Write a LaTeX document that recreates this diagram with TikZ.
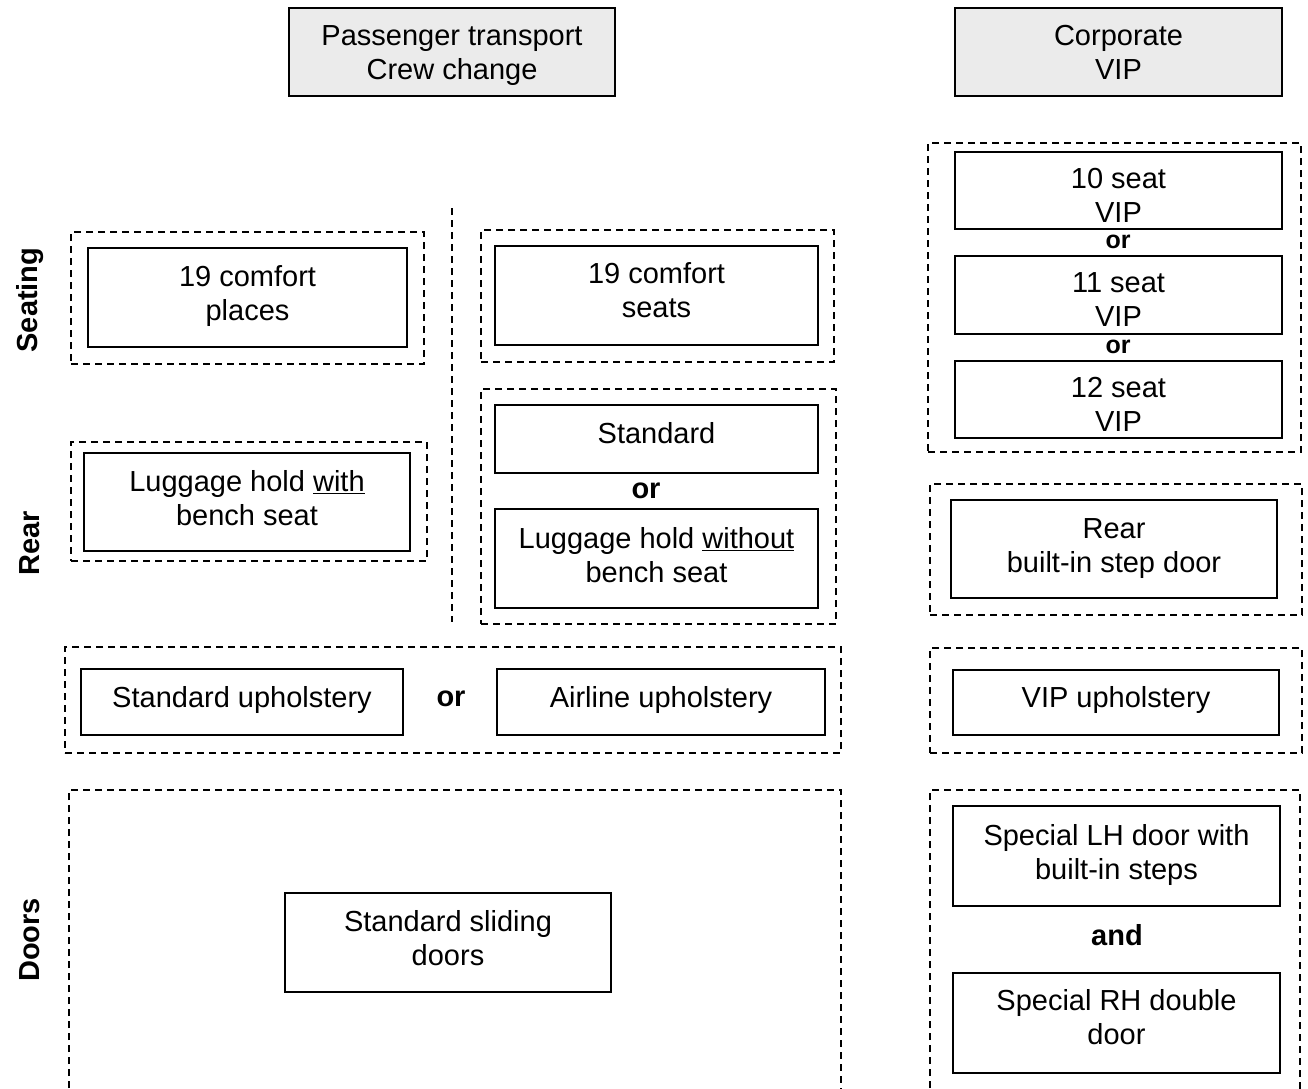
\documentclass[tikz,border=0pt]{standalone}
\usepackage{fontspec}
\setmainfont{Liberation Sans}
% option box: name, centre x, centre y, width, height, text centre y, text
\newcommand{\optbox}[7][box]{%
  \node[#1, sz={#5}{#6}] (#2) at (#3,#4) {};
  \node[txt] (#2-t) at (#3,#7) }
\begin{document}
\begin{tikzpicture}[x=1pt,y=-1pt,
  txt/.style={font=\fontsize{29}{34}\selectfont, align=center, inner sep=0pt},
  box/.style={draw, line width=2pt, inner sep=0pt},
  hdr/.style={box, fill=black!8},
  grp/.style={draw, line width=1.5pt, dash pattern=on 7pt off 5pt, inner sep=0pt},
  sz/.style 2 args={minimum width=#1pt, minimum height=#2pt},
  conj/.style={font=\fontsize{29}{34}\selectfont\bfseries},
  conjs/.style={font=\fontsize{25}{30}\selectfont\bfseries},
  rowlbl/.style={font=\fontsize{29}{34}\selectfont\bfseries, rotate=90}
]
\useasboundingbox (0,0) rectangle (1308,1088);
\clip (0,0) rectangle (1308,1088);

% column headers
\optbox[hdr]{hpass}{452}{52}{326}{88}{56} {Passenger transport\\Crew change};
\optbox[hdr]{hcorp}{1118.5}{52}{327}{88}{52} {Corporate\\VIP};

% row labels
\node[rowlbl] (lseat) at (30,300) {Seating};
\node[rowlbl] (lrear) at (30,543) {Rear};
\node[rowlbl] (ldoor) at (30,940) {Doors};

% divider between the two passenger variants
\coordinate (divtop) at (452,208);
\coordinate (divbot) at (452,622);
\draw[line width=1.5pt, dash pattern=on 7pt off 5pt] (divtop) -- (divbot);

% seating
\node[grp, sz={353}{132}] (gseatA) at (247.5,298) {};
\optbox{seatA}{247.5}{297.5}{319}{99}{296.5} {19 comfort\\places};
\node[grp, sz={353}{132}] (gseatB) at (657.5,296) {};
\optbox{seatB}{656.5}{295.5}{323}{99}{290.5} {19 comfort\\seats};

\node[grp, sz={373}{309}] (gvip) at (1114.5,297.5) {};
\optbox{vip10}{1118.5}{190.5}{327}{77}{195.5} {10 seat\\VIP};
\node[conjs] (or1) at (1118,242) {or};
\optbox{vip11}{1118.5}{295}{327}{78}{299.5} {11 seat\\VIP};
\node[conjs] (or2) at (1118,347) {or};
\optbox{vip12}{1118.5}{399.5}{327}{77}{404} {12 seat\\VIP};

% rear
\node[grp, sz={356}{119}] (grearA) at (249,501.5) {};
\optbox{rearA}{247}{502}{326}{98}{498.5} {Luggage hold \underline{with}\\bench seat};

\node[grp, sz={355}{235}] (grearB) at (658.5,506.5) {};
\optbox{rearStd}{656.5}{439}{323}{68}{433} {Standard};
\node[conj] (or3) at (646,491) {or};
\optbox{rearLug}{656.5}{558.5}{323}{99}{555} {Luggage hold \underline{without}\\bench seat};

\node[grp, sz={372}{131}] (grearC) at (1116,549.5) {};
\optbox{rearC}{1114}{549}{326}{98}{549} {Rear\\built-in step door};

% upholstery
\node[grp, sz={776}{106}] (gupA) at (453,700) {};
\optbox{upStd}{242}{702}{322}{66}{700} {Standard upholstery};
\node[conj] (or4) at (451,699) {or};
\optbox{upAir}{661}{702}{328}{66}{700} {Airline upholstery};

\node[grp, sz={372}{105}] (gupC) at (1116,700.5) {};
\optbox{upVip}{1116}{702.5}{326}{65}{699.5} {VIP upholstery};

% doors (frames run past the lower edge)
\coordinate (dAbl) at (69,1100);
\coordinate (dAtr) at (841,790);
\draw[line width=1.5pt, dash pattern=on 7pt off 5pt] (dAbl) |- (dAtr) -- (dAtr |- dAbl);
\optbox{doorA}{448}{942.5}{326}{99}{938.5} {Standard sliding\\doors};

\coordinate (dCbl) at (930,1100);
\coordinate (dCtr) at (1300,790);
\draw[line width=1.5pt, dash pattern=on 7pt off 5pt] (dCbl) |- (dCtr) -- (dCtr |- dCbl);
\optbox{doorLH}{1116.5}{856}{327}{100}{854.5} {Special LH door with\\built-in steps};
\node[conj] (and1) at (1117,935) {and};
\optbox{doorRH}{1116.5}{1023}{327}{100}{1017.5} {Special RH double\\door};
\end{tikzpicture}
\end{document}
